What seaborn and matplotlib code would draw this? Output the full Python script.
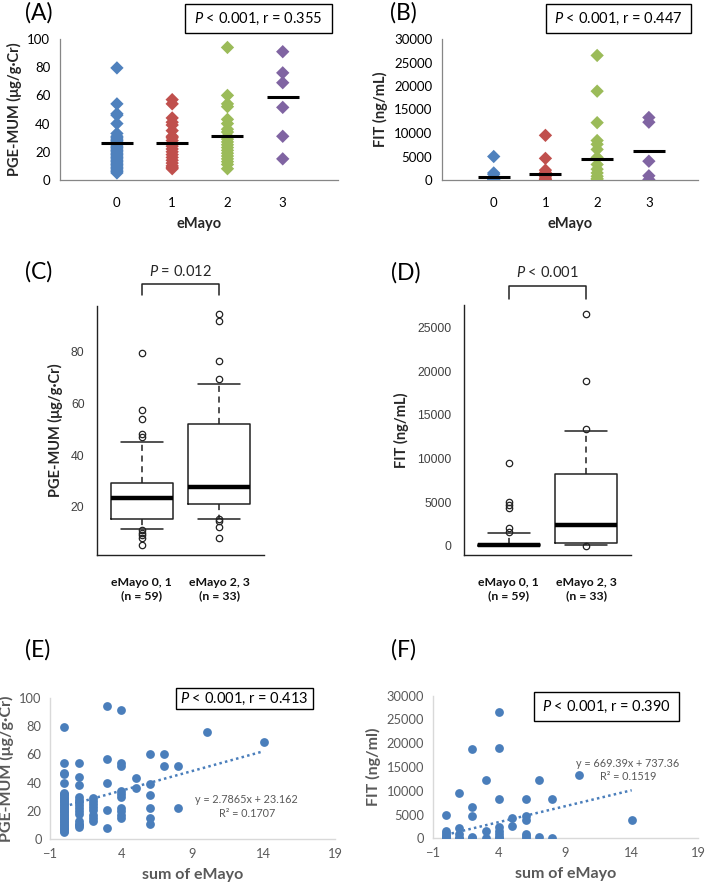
import numpy as np
import pandas as pd
import matplotlib
matplotlib.use("Agg")
import matplotlib.pyplot as plt
from matplotlib.patches import Rectangle
import seaborn as sns

sns.set_theme(style="white")
plt.rcParams['font.family'] = ['Lato', 'DejaVu Sans']
plt.rcParams['mathtext.fontset'] = 'custom'
plt.rcParams['mathtext.it'] = 'Lato:italic'
plt.rcParams['mathtext.rm'] = 'Lato'

# ---------------- data ----------------
emayo_cats = [0, 1, 2, 3]
emayo_colors = ["#4F81BD", "#C0504D", "#9BBB59", "#8064A2"]

# Panel A: PGE-MUM per eMayo
a_cat0 = [79.5, 54, 47, 46, 40, 33, 31, 30, 29, 28, 27, 26, 25, 24, 23, 22, 21, 20,
          19, 18, 17, 16, 15, 14, 13, 12, 11, 10, 9, 8, 7, 6, 5]
a_cat1 = [57, 54, 44, 41, 39, 35, 31, 30, 28, 26, 24, 22, 20, 18, 16, 14, 12, 10, 9, 8]
a_cat2 = [94, 60, 54, 52, 43, 40, 36, 34, 31, 29, 27, 25, 23, 21, 19, 17, 15, 13, 11, 8]
a_cat3 = [91, 76, 69, 51.5, 31, 15]
a_means = [26, 26, 31.3, 58.6]

# Panel B: FIT per eMayo
b_cat0 = [5000, 1500, 1200, 600, 300, 100, 50, 0]
b_cat1 = [9500, 4600, 2100, 1600, 1200, 800, 400, 100, 0]
b_cat2 = [26500, 18900, 12200, 8400, 7600, 6500, 4800, 3300, 2300, 1500, 800, 300, 0]
b_cat3 = [13300, 12300, 4000, 900, 100]
b_means = [550, 1250, 4500, 6100]

# Panel C / D: box plot statistics
box_labels = ["eMayo 0, 1\n(n = 59)", "eMayo 2, 3\n(n = 33)"]
c_q1 = [15.4, 21.1]
c_med = [23.5, 27.7]
c_q3 = [29.3, 52.0]
c_lo = [11.5, 15.3]
c_hi = [45.0, 67.5]
c_fliers0 = [79.5, 57.3, 53.8, 48.3, 47.0, 10.9, 9.9, 9.1, 8.0, 5.4]
c_fliers1 = [94.5, 91.7, 76.3, 69.4, 15.4, 14.4, 12.4, 8.0]

d_q1 = [0, 340]
d_med = [80, 2400]
d_q3 = [200, 8220]
d_lo = [0, 120]
d_hi = [1480, 13130]
d_fliers0 = [9500, 5060, 4660, 4300, 2020, 1550]
d_fliers1 = [26500, 18850, 13350, 0]
d_ticks = [0, 5000, 10000, 15000, 20000, 25000]

# Panel E: PGE-MUM vs sum of eMayo
e_x = [0]*34 + [1]*14 + [2]*8 + [3]*5 + [4]*10 + [5]*2 + [6]*6 + [7]*2 + [8]*2 + [10] + [14]
e_y = [79.5, 53.5, 47, 46, 40, 33, 32, 31, 30, 29, 28, 27, 26, 25, 24, 23, 22, 21, 20,
       19, 18, 17, 16, 15, 14, 13, 12, 11, 10, 9, 8, 7, 6, 5,
       54, 44, 38, 30, 28, 26, 24, 22, 20, 18, 13, 11, 10, 9,
       29, 27, 25, 23, 21, 17, 15, 13,
       94, 57, 40, 21, 8,
       91, 54, 52, 34, 32, 30, 22, 20, 17, 15,
       43, 36,
       60, 39, 31, 22, 15, 11,
       60, 52,
       52, 22,
       76,
       69]
e_slope, e_intercept, e_r2 = 2.7865, 23.162, 0.1707

# Panel F: FIT vs sum of eMayo
f_x = [0]*8 + [1]*5 + [2]*5 + [3]*3 + [4]*8 + [5]*2 + [6]*6 + [7]*2 + [8]*2 + [10] + [14]
f_y = [5000, 1500, 1200, 700, 300, 100, 50, 0,
       9500, 2100, 900, 100, 0,
       18800, 6550, 4700, 300, 0,
       12200, 1500, 0,
       26600, 18900, 8230, 2300, 1500, 800, 300, 0,
       4350, 2650,
       8200, 4700, 3900, 900, 400, 0,
       12300, 300,
       8300, 50,
       13350,
       3900]
f_slope, f_intercept, f_r2 = 669.39, 737.36, 0.1519

panel_stats = ["$P$ < 0.001, r = 0.355", "$P$ < 0.001, r = 0.447",
               "$P$ = 0.012", "$P$ < 0.001",
               "$P$ < 0.001, r = 0.413", "$P$ < 0.001, r = 0.390"]

# ---------------- layout helpers ----------------
W, H = 709, 884
fig = plt.figure(figsize=(W / 100, H / 100), dpi=100)


def rect(l, t, r, b):
    return [l / W, 1 - b / H, (r - l) / W, (b - t) / H]


def fx(x):
    return x / W


def fy(y):
    return 1 - y / H


def pbox(l, t, r, b, text, fs=10.5):
    fig.add_artist(Rectangle((fx(l), fy(b)), (r - l) / W, (b - t) / H,
                             transform=fig.transFigure, fc="white", ec="black", lw=1.0))
    fig.text(fx((l + r) / 2), fy((t + b) / 2), text, ha="center", va="center",
             fontsize=fs, color="black")


def panel_label(x, y, s):
    fig.text(fx(x), fy(y), s, fontsize=16.5, ha="left", va="center", color="black")


grey_axis = "#868686"

# ---------------- A and B ----------------
def strip_panel(rc, groups, means, ylim, yticks, ylabel):
    ax = fig.add_axes(rc)
    xs, ys = [], []
    for c, g in zip(emayo_cats, groups):
        xs += [c] * len(g)
        ys += g
    df = pd.DataFrame({"eMayo": xs, "val": ys})
    sns.stripplot(data=df, x="eMayo", y="val", hue="eMayo", palette=emayo_colors,
                  marker="D", size=6.8, jitter=False, native_scale=True, legend=False,
                  linewidth=0, ax=ax, zorder=3)
    mdf = pd.DataFrame({"eMayo": emayo_cats, "mean": means})
    sns.scatterplot(data=mdf, x="eMayo", y="mean", marker="_", s=23 ** 2, color="black",
                    linewidth=2.2, ax=ax, zorder=4, legend=False)
    ax.set_xlim(-1.03, 3.98)
    ax.set_ylim(*ylim)
    ax.set_xticks([-1, 0, 1, 2, 3, 4])
    ax.set_xticklabels(["", "0", "1", "2", "3", ""])
    ax.set_yticks(yticks)
    ax.tick_params(axis="both", direction="out", length=4, width=0.8, color=grey_axis,
                   labelsize=9.5, labelcolor="black", pad=3)
    ax.tick_params(axis="x", pad=8)
    for s in ["top", "right"]:
        ax.spines[s].set_visible(False)
    for s in ["left", "bottom"]:
        ax.spines[s].set_color(grey_axis)
        ax.spines[s].set_linewidth(0.9)
    ax.set_xlabel("eMayo", fontsize=10.5, fontweight="bold", labelpad=6)
    ax.set_ylabel(ylabel, fontsize=10.5, fontweight="bold", labelpad=4)
    ax.patch.set_alpha(0)
    return ax


axA = strip_panel(rect(60, 39, 338, 180), [a_cat0, a_cat1, a_cat2, a_cat3], a_means,
                  (0, 100), [0, 20, 40, 60, 80, 100], "PGE-MUM (μg/g·Cr)")
axB = strip_panel(rect(442, 39, 698, 180), [b_cat0, b_cat1, b_cat2, b_cat3], b_means,
                  (0, 30000), [0, 5000, 10000, 15000, 20000, 25000, 30000], "FIT (ng/mL)")
axB.set_xlim(-1.0, 3.95)

panel_label(25, 13, "(A)")
panel_label(390, 13, "(B)")
pbox(185, 4, 332, 33, panel_stats[0])
pbox(546, 4, 691, 33, panel_stats[1])

# ---------------- C and D ----------------
def box_panel(rc, q1, med, q3, lo, hi, fliers, ylim, yticks, yticklabels, ylabel):
    ax = fig.add_axes(rc)
    stats = []
    for i in range(2):
        stats.append(dict(q1=q1[i], med=med[i], q3=q3[i], whislo=lo[i], whishi=hi[i],
                          fliers=fliers[i], label=box_labels[i]))
    ax.bxp(stats, positions=[1, 2], widths=0.8, capwidths=0.55, patch_artist=False,
           boxprops=dict(color="#222222", lw=1.1),
           whiskerprops=dict(color="#222222", lw=1.1, ls=(0, (4, 3))),
           capprops=dict(color="#222222", lw=1.1),
           medianprops=dict(color="black", lw=3.2),
           flierprops=dict(marker="o", mfc="none", mec="#222222", ms=4.6, mew=0.9))
    ax.set_xlim(0.42, 2.58)
    ax.set_ylim(*ylim)
    ax.set_yticks(yticks)
    ax.set_yticklabels(yticklabels)
    ax.set_xticks([1, 2])
    ax.set_xticklabels(box_labels, fontweight="bold", fontsize=8.8, color="#111111",
                       linespacing=1.25)
    ax.tick_params(axis="y", direction="out", length=6, width=0.8, color="#444444",
                   labelsize=8.8, labelcolor="#404040", pad=3, labelfontfamily="Liberation Sans")
    ax.tick_params(axis="x", direction="out", length=6, width=0.8, color="#444444", pad=10)
    for s in ["top", "right"]:
        ax.spines[s].set_visible(False)
    for s in ["left", "bottom"]:
        ax.spines[s].set_color("#222222")
        ax.spines[s].set_linewidth(1.0)
    ax.set_ylabel(ylabel, fontsize=10.5, fontweight="bold", labelpad=6)
    ax.patch.set_alpha(0)
    return ax


axC = box_panel(rect(97, 306, 264, 555), c_q1, c_med, c_q3, c_lo, c_hi,
                [c_fliers0, c_fliers1], (1.4, 97.6), [20, 40, 60, 80],
                ["20", "40", "60", "80"], "PGE-MUM (μg/g·Cr)")
axD = box_panel(rect(464, 305, 631, 555), d_q1, d_med, d_q3, d_lo, d_hi,
                [d_fliers0, d_fliers1], (-1060, 27560), d_ticks,
                [str(t) for t in d_ticks], "FIT (ng/mL)")


def bracket(ax, y0, y1, text, ty):
    tr = matplotlib.transforms.blended_transform_factory(ax.transData, ax.transAxes)
    ax.plot([1, 1, 2, 2], [y0, y1, y1, y0], color="#222222", lw=1.1, transform=tr,
            clip_on=False)
    ax.text(1.5, ty, text, transform=tr, ha="center", va="center", fontsize=10.5)


bracket(axC, 1.044, 1.088, panel_stats[2], 1.14)
bracket(axD, 1.024, 1.076, panel_stats[3], 1.13)
panel_label(25, 272, "(C)")
panel_label(391, 273, "(D)")

# ---------------- E and F ----------------
scat_color = "#4A7EBB"
tick_grey = "#595959"


def scatter_panel(rc, x, y, ylim, yticks, ylabel, slope, intercept, r2, eqpos):
    ax = fig.add_axes(rc)
    df = pd.DataFrame({"sum": x, "val": y})
    sns.scatterplot(data=df, x="sum", y="val", color=scat_color, s=40, linewidth=0,
                    ax=ax, zorder=3)
    xs = np.array([min(x), max(x)])
    ax.plot(xs, slope * xs + intercept, ls=(0, (1, 1.3)), lw=1.8, color=scat_color,
            zorder=2)
    ax.set_xlim(-1, 19)
    ax.set_ylim(*ylim)
    ax.set_xticks([-1, 4, 9, 14, 19])
    ax.set_yticks(yticks)
    ax.tick_params(axis="both", length=0, labelsize=9.3, labelcolor=tick_grey, pad=6)
    for s in ["top", "right"]:
        ax.spines[s].set_visible(False)
    for s in ["left", "bottom"]:
        ax.spines[s].set_color("#D9D9D9")
        ax.spines[s].set_linewidth(1.0)
    ax.set_xlabel("sum of eMayo", fontsize=11.5, fontweight="bold", color=tick_grey,
                  labelpad=6)
    ax.set_ylabel(ylabel, fontsize=11.5, fontweight="bold", color=tick_grey, labelpad=4)
    ax.text(eqpos[0], eqpos[1], f"y = {slope}x + {intercept}\nR² = {r2}",
            transform=ax.transAxes, ha="center", va="center", fontsize=7.8,
            color=tick_grey, linespacing=1.3)
    ax.patch.set_alpha(0)
    return ax


axE = scatter_panel(rect(50, 697.6, 335, 839.3), e_x, e_y, (0, 100),
                    [0, 20, 40, 60, 80, 100], "PGE-MUM (μg/g·Cr)",
                    e_slope, e_intercept, e_r2, (0.69, 0.23))
axF = scatter_panel(rect(432.7, 695.7, 698, 838.3), f_x, f_y, (0, 30000),
                    [0, 5000, 10000, 15000, 20000, 25000, 30000], "FIT (ng/ml)",
                    f_slope, f_intercept, f_r2, (0.736, 0.48))

panel_label(25, 650, "(E)")
panel_label(391, 650, "(F)")
pbox(176, 688, 313, 709, panel_stats[4])
pbox(534, 692, 679, 721, panel_stats[5])

fig.savefig("out.png", dpi=100)
